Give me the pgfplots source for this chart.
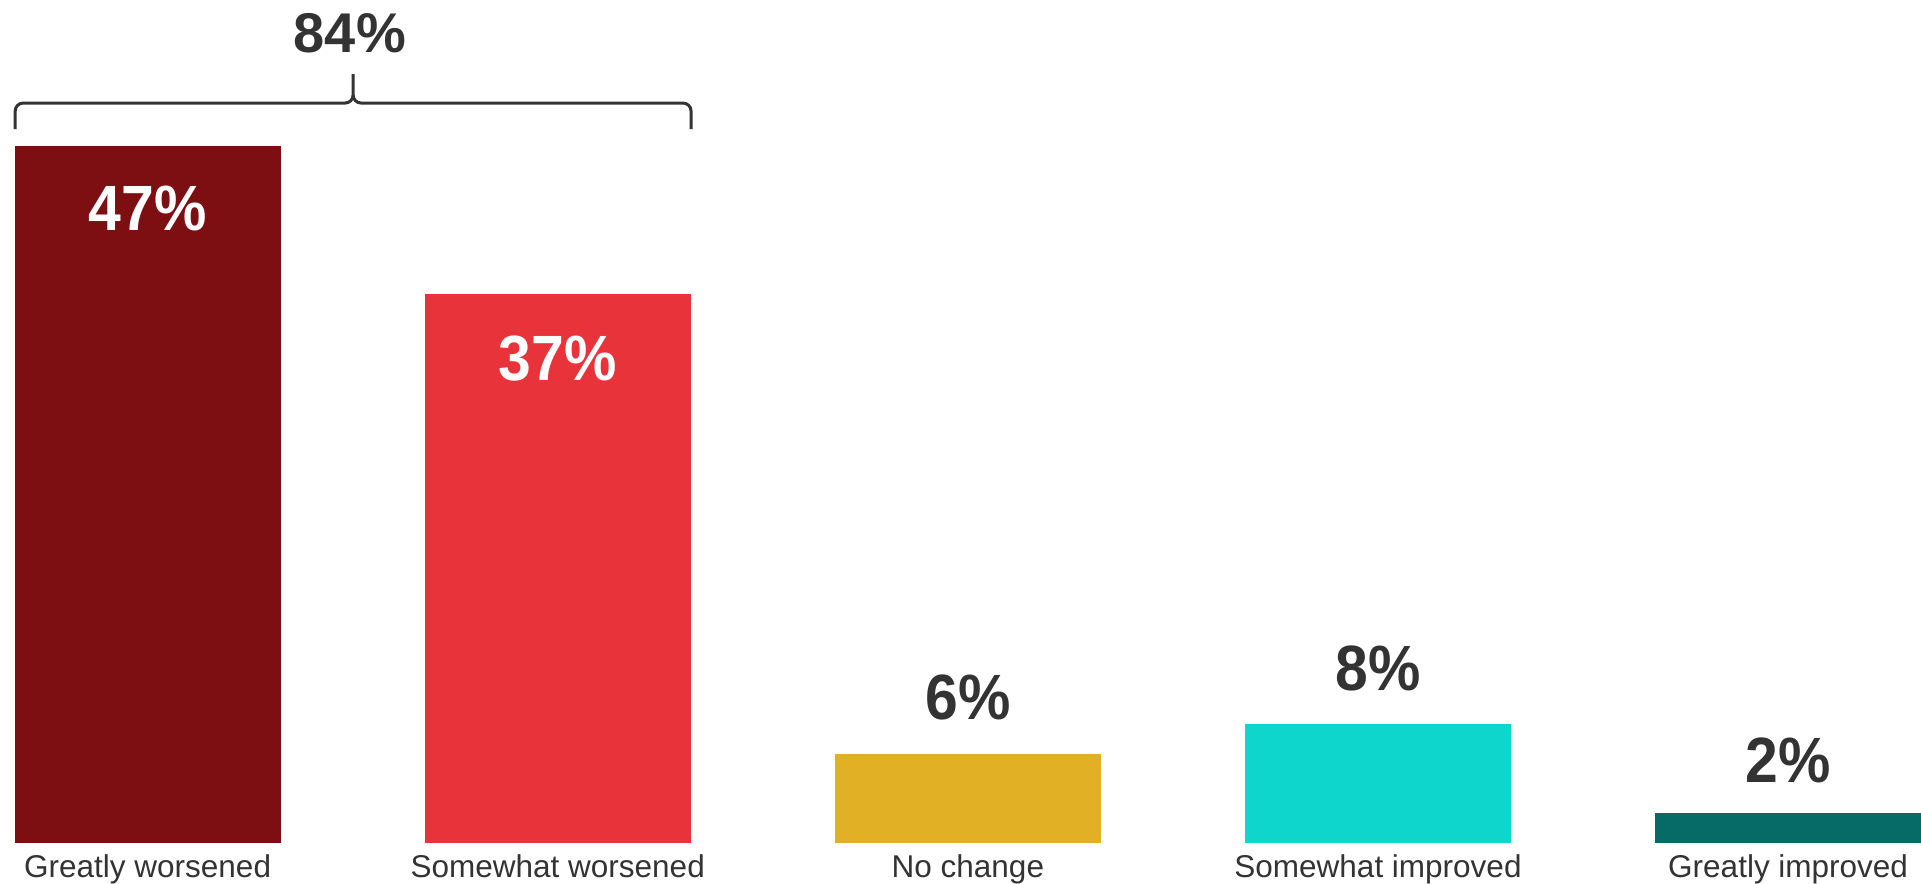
\documentclass[border=0pt]{standalone}
\usepackage{fontspec}
\setmainfont{Liberation Sans}
\newfontfamily\valfont{Liberation Sans}[FakeStretch=0.92]
\usepackage{pgfplots}
\pgfplotsset{compat=1.18}
\definecolor{c1}{HTML}{7D0E11}
\definecolor{c2}{HTML}{E9333A}
\definecolor{c3}{HTML}{E1B024}
\definecolor{c4}{HTML}{0ED6CC}
\definecolor{c5}{HTML}{066B66}
\definecolor{txt}{HTML}{333333}
\begin{document}
\begin{tikzpicture}
\begin{axis}[
  scale only axis, width=960.5pt, height=421.5pt,
  xmin=-0.36, xmax=4.324, ymin=0, ymax=56.85,
  clip=false,
  /pgf/number format/assume math mode=true,
  axis line style={draw=none},
  major tick length=0pt,
  ytick=\empty,
  xtick={0,1,2,3,4},
  xticklabels={Greatly worsened,Somewhat worsened,No change,Somewhat improved,Greatly improved},
  xticklabel style={anchor=base, yshift=-17pt, font=\fontsize{15.75}{18}\selectfont, text=txt},
  ybar, bar width=133pt,
  nodes near coords={\pgfmathprintnumber{\pgfplotspointmeta}\%},
  nodes near coords style={font=\valfont\bfseries\fontsize{32}{38}\selectfont},
]
\addplot[fill=c1, draw=none, bar shift=0pt, every node near coord/.append style={anchor=center, yshift=-31pt, text=white}] coordinates {(0,47)};
\addplot[fill=c2, draw=none, bar shift=0pt, every node near coord/.append style={anchor=center, yshift=-32pt, text=white}] coordinates {(1,37)};
\addplot[fill=c3, draw=none, bar shift=0pt, every node near coord/.append style={anchor=center, yshift=28.5pt, text=txt}] coordinates {(2,6)};
\addplot[fill=c4, draw=none, bar shift=0pt, every node near coord/.append style={anchor=center, yshift=28pt, text=txt}] coordinates {(3,8)};
\addplot[fill=c5, draw=none, bar shift=0pt, every node near coord/.append style={anchor=center, yshift=26.5pt, text=txt}] coordinates {(4,2)};
\draw[line width=1.5pt, color=txt] (axis cs:-0.323,48.15) -- (axis cs:-0.323,49.36) to[out=90,in=180] (axis cs:-0.3035,49.9) -- (axis cs:0.4815,49.9) to[out=0,in=-90] (axis cs:0.501,50.44) -- (axis cs:0.501,51.85);
\draw[line width=1.5pt, color=txt] (axis cs:1.325,48.15) -- (axis cs:1.325,49.36) to[out=90,in=0] (axis cs:1.3055,49.9) -- (axis cs:0.5205,49.9) to[out=180,in=-90] (axis cs:0.501,50.44);
\node[font=\fontsize{28}{34}\selectfont\bfseries, text=txt] at (axis cs:0.493,54.6) {84\%};
\coordinate (BL) at (rel axis cs:0,0);
\coordinate (TR) at (rel axis cs:1,1);
\end{axis}
\pgfresetboundingbox
\useasboundingbox ([yshift=-20pt]BL) rectangle (TR);
\end{tikzpicture}
\end{document}
